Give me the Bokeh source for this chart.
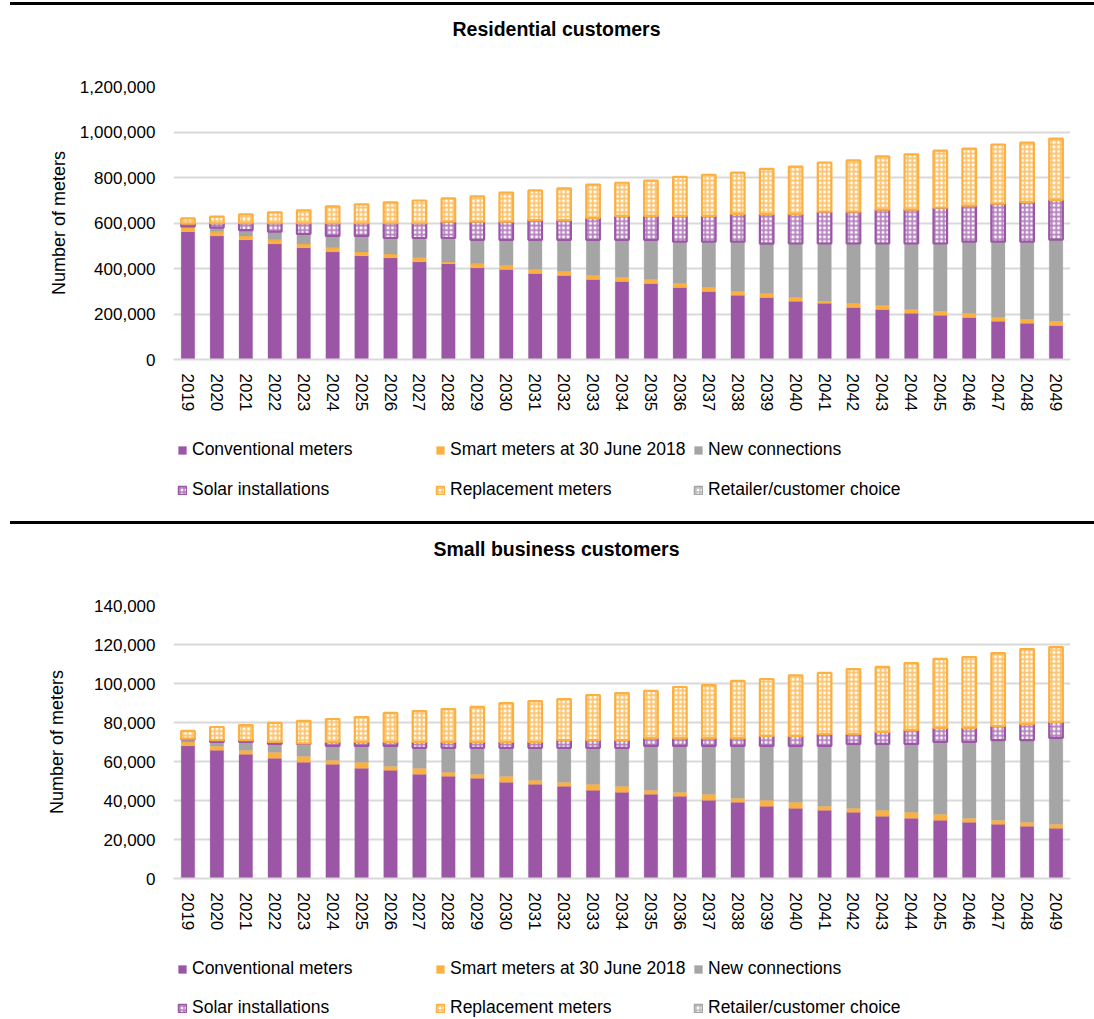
from bokeh.plotting import figure
from bokeh.models import (ColumnDataSource, FixedTicker, NumeralTickFormatter,
                          Legend, LegendItem, FactorRange, Range1d, Label, Div)
from bokeh.layouts import column
from bokeh.embed import file_html
from bokeh.resources import INLINE
from bokeh.core.validation import silence
from bokeh.core.validation.warnings import MISSING_RENDERERS

silence(MISSING_RENDERERS, True)

# ---------------- data ----------------
years = [str(y) for y in range(2019, 2050)]
series_names = ["Conventional meters", "Smart meters at 30 June 2018", "New connections",
                "Solar installations", "Replacement meters", "Retailer/customer choice"]

res_conventional = [562000, 543000, 526000, 508000, 491000, 473000, 456000, 447000, 429000, 421000,
                    403000, 396000, 378000, 369000, 352000, 343000, 334000, 317000, 299000, 282000,
                    273000, 256000, 247000, 229000, 220000, 203000, 194000, 185000, 168000, 159000, 150000]
res_smart = [18000, 18000, 17000, 18000, 17000, 18000, 17000, 17000, 18000, 8000,
             18000, 17000, 18000, 18000, 17000, 18000, 18000, 17000, 18000, 17000,
             17000, 17000, 9000, 18000, 18000, 17000, 18000, 18000, 17000, 18000, 18000]
res_new = [5000, 19000, 26000, 36000, 44000, 52000, 70000, 70000, 87000, 105000,
           105000, 113000, 130000, 139000, 157000, 165000, 174000, 184000, 201000, 219000,
           219000, 237000, 254000, 263000, 272000, 290000, 298000, 315000, 333000, 341000, 359000]
res_solar = [12000, 19000, 30000, 37000, 47000, 56000, 56000, 65000, 65000, 72000,
             80000, 80000, 87000, 87000, 96000, 105000, 105000, 113000, 113000, 122000,
             130000, 130000, 140000, 140000, 149000, 149000, 157000, 158000, 167000, 175000, 175000]
res_replacement = [23000, 29000, 39000, 48000, 57000, 74000, 83000, 92000, 100000, 102000,
                   111000, 128000, 130000, 139000, 147000, 146000, 155000, 172000, 181000, 181000,
                   199000, 208000, 216000, 225000, 234000, 243000, 251000, 251000, 260000, 260000, 269000]
res_retailer = [0] * 31

sb_conventional = [68000, 65800, 63700, 61700, 59600, 58600, 56500, 55500, 53500, 52400,
                   51400, 49400, 48300, 47300, 45300, 44200, 43200, 42200, 40100, 39100,
                   37100, 36000, 35000, 34000, 31900, 30900, 29900, 28900, 27800, 26800, 25800]
sb_smart = [2000, 2000, 2100, 3000, 3100, 2000, 3100, 2100, 3000, 2100,
            2100, 3000, 2100, 2100, 3000, 3100, 2100, 2000, 3100, 2100,
            3000, 3100, 2100, 2000, 3100, 3100, 3100, 2000, 2100, 2100, 2000]
sb_new = [1400, 2200, 4200, 4300, 6300, 7400, 8400, 10400, 10500, 12500,
          13500, 14600, 16600, 17600, 18700, 19700, 22700, 23800, 24800, 26800,
          27900, 28900, 30900, 33000, 34000, 35000, 37000, 39100, 41100, 42100, 44300]
sb_solar = [300, 1000, 1000, 1000, 300, 2000, 2000, 2000, 3000, 3000,
            3000, 3000, 3000, 4000, 4000, 4000, 4000, 4000, 4000, 4000,
            5100, 5100, 6100, 5100, 6200, 7200, 7200, 7200, 7200, 8300, 8200]
sb_replacement = [4000, 6700, 7700, 9800, 11500, 11800, 12800, 14900, 15900, 16900,
                  18000, 20000, 21000, 21000, 23100, 24100, 24200, 26200, 27200, 29300,
                  29200, 31100, 31300, 33300, 33300, 34300, 35400, 36400, 37400, 38400, 38400]
sb_retailer = [0] * 31

res_ticks = [0, 200000, 400000, 600000, 800000, 1000000, 1200000]
sb_ticks = [0, 20000, 40000, 60000, 80000, 100000, 120000, 140000]

# ---------------- styles ----------------
W = 1090
BL, BR = 173, 20          # frame from x=173 to x=1070
PURPLE = "#9b57a6"
ORANGE = "#fbb040"
GREY = "#a5a5a5"
FONT = "Liberation Sans"
keys = ["conv", "smart", "new", "solar", "repl", "retail"]
fill_colors = [PURPLE, ORANGE, GREY, "white", "white", "white"]
hatch_patterns = [None, None, None, "cross", "cross", "cross"]
hatch_colors = [PURPLE, ORANGE, GREY, "#b47fbd", "#fcc26a", "#bdbdbd"]
hatch_scales = [6, 6, 6, 4.5, 4.5, 4.5]
hatch_weights = [1, 1, 1, 1.8, 1.8, 1.8]
line_colors = [PURPLE, ORANGE, GREY, PURPLE, ORANGE, GREY]
line_widths = [0.5, 0.5, 0.5, 2.2, 2.2, 2.2]
line_alphas = [0.5, 0.5, 0.5, 1.0, 1.0, 0.0]
legend_line_alphas = [0.5, 0.5, 0.5, 1.0, 1.0, 1.0]


def blank(height, x_range, y_range):
    f = figure(width=W, height=height, output_backend="svg", toolbar_location=None,
               x_range=x_range, y_range=y_range, min_border_left=BL, min_border_right=BR,
               min_border_top=0, min_border_bottom=0,
               x_axis_location=None, y_axis_location=None)
    f.outline_line_color = None
    f.xgrid.visible = False
    f.ygrid.visible = False
    return f


def header(text, height, center_from_top):
    h = blank(height, Range1d(0, 1), Range1d(0, 1))
    h.add_layout(Label(x=(556 - BL) / (W - BL - BR), y=1 - center_from_top / height, text=text,
                       text_align="center", text_baseline="middle", text_font=FONT,
                       text_font_size="19.5px", text_font_style="bold", text_color="black"))
    return h


def chart(src, ticks, ymax, height, border_bottom, label_standoff):
    p = figure(x_range=FactorRange(factors=years), y_range=Range1d(0, ymax),
               width=W, height=height, output_backend="svg", toolbar_location=None,
               min_border_left=BL, min_border_right=BR, min_border_top=12,
               min_border_bottom=border_bottom)
    p.outline_line_color = None
    p.x_range.range_padding = 0
    p.vbar_stack(keys, x="year", width=0.47, source=src,
                 fill_color=fill_colors, hatch_pattern=hatch_patterns,
                 hatch_color=hatch_colors, hatch_scale=hatch_scales,
                 hatch_weight=hatch_weights,
                 line_color=line_colors, line_width=line_widths, line_alpha=line_alphas)

    yaxis = p.yaxis[0]
    yaxis.ticker = FixedTicker(ticks=ticks)
    yaxis.formatter = NumeralTickFormatter(format="0,0")
    yaxis.axis_line_color = None
    yaxis.major_tick_line_color = None
    yaxis.major_tick_out = 0
    yaxis.minor_tick_line_color = None
    yaxis.minor_tick_out = 0
    yaxis.major_label_standoff = 18
    yaxis.major_label_text_font = FONT
    yaxis.major_label_text_font_size = "17px"
    yaxis.major_label_text_color = "black"
    yaxis.axis_label = "Number of meters"
    yaxis.axis_label_text_font = FONT
    yaxis.axis_label_text_font_size = "18px"
    yaxis.axis_label_text_font_style = "normal"
    yaxis.axis_label_text_color = "black"
    yaxis.axis_label_standoff = label_standoff

    xaxis = p.xaxis[0]
    xaxis.axis_line_color = "#d9d9d9"
    xaxis.axis_line_width = 2
    xaxis.major_tick_line_color = None
    xaxis.major_tick_out = 0
    xaxis.minor_tick_line_color = None
    xaxis.minor_tick_out = 0
    xaxis.major_label_orientation = "vertical"
    xaxis.major_label_standoff = 14
    xaxis.major_label_text_font = FONT
    xaxis.major_label_text_font_size = "17px"
    xaxis.major_label_text_color = "black"

    p.xgrid.grid_line_color = None
    p.ygrid.grid_line_color = "#d9d9d9"
    p.ygrid.grid_line_width = 2
    p.ygrid.ticker = FixedTicker(ticks=ticks)
    return p


def legend_strip(src, height, row_tops):
    # legend glyphs come from the same series; those renderers are hidden in this strip
    lf = blank(height, FactorRange(factors=years), Range1d(-2, -1))
    rs = lf.vbar_stack(keys, x="year", width=0.47, source=src,
                       fill_color=fill_colors, hatch_pattern=hatch_patterns,
                       hatch_color=hatch_colors, hatch_scale=4, hatch_weight=1.5,
                       line_color=line_colors, line_width=[0.5, 0.5, 0.5, 1.5, 1.5, 1.5],
                       line_alpha=legend_line_alphas)
    for r in rs:
        r.visible = False
    for idx, top in zip((slice(0, 3), slice(3, 6)), row_tops):
        items = [LegendItem(label=n, renderers=[r]) for n, r in zip(series_names[idx], rs[idx])]
        leg = Legend(items=items, orientation="horizontal", location=(4, height - top - 20),
                     margin=0, padding=0, spacing=7, glyph_width=10, glyph_height=10,
                     label_standoff=5, label_width=236, label_height=20,
                     label_text_font=FONT, label_text_font_size="17.5px",
                     label_text_color="black", click_policy="none",
                     inactive_fill_alpha=0,
                     border_line_color=None, background_fill_alpha=0)
        lf.add_layout(leg, "center")
    return lf


def sep(top):
    return Div(text="", width=1084, height=3, margin=(top, 0, 0, 10),
               styles={"background-color": "black"})


src1 = ColumnDataSource(dict(year=years, conv=res_conventional, smart=res_smart, new=res_new,
                             solar=res_solar, repl=res_replacement, retail=res_retailer))
src2 = ColumnDataSource(dict(year=years, conv=sb_conventional, smart=sb_smart, new=sb_new,
                             solar=sb_solar, repl=sb_replacement, retail=sb_retailer))

h1 = header("Residential customers", 69, 23)
p1 = chart(src1, res_ticks, 1200000, 341, 56, 8)
l1 = legend_strip(src1, 106, [25, 65])
h2 = header("Small business customers", 69, 24)
p2 = chart(src2, sb_ticks, 140000, 341, 56, 24)
l2 = legend_strip(src2, 84, [25, 64])

layout = column(sep(2), h1, p1, l1, sep(0), h2, p2, l2, spacing=0)
open("out.html", "w").write(file_html(layout, INLINE))
